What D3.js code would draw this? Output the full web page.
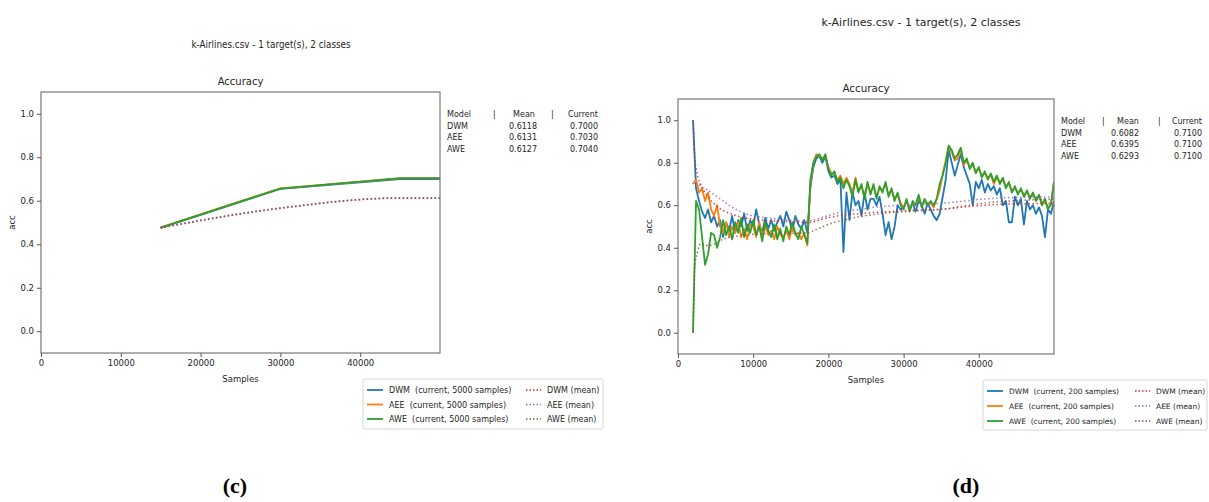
<!DOCTYPE html>
<html><head><meta charset="utf-8">
<script src="https://cdn.jsdelivr.net/npm/d3@7"></script>
<style>body{margin:0;background:#fff}svg{display:block}text{font-family:"DejaVu Sans",sans-serif;fill:#262626}</style>
</head><body><svg id="c" width="1209" height="502"></svg>
<script>
// ---------- data ----------
const models = ["DWM", "AEE", "AWE"];
const currentColors = ["#1f77b4", "#ff7f0e", "#2ca02c"];
const meanColors = ["#d62728", "#9467bd", "#8c564b"];
const xTicks = [0, 10000, 20000, 30000, 40000];
const yTicks = [0.0, 0.2, 0.4, 0.6, 0.8, 1.0];
const figTitle = "k-Airlines.csv - 1 target(s), 2 classes";

// panel (c): 5000-sample windows
const cSamples = [15000, 30000, 45000, 50000];
const cDWM = [0.475, 0.655, 0.700, 0.700];
const cAEE = [0.478, 0.657, 0.703, 0.703];
const cAWE = [0.476, 0.656, 0.704, 0.704];
const cDWMmean = [0.475, 0.565, 0.612, 0.612];
const cAEEmean = [0.478, 0.567, 0.613, 0.613];
const cAWEmean = [0.476, 0.566, 0.6127, 0.6127];
const cTable = [["0.6118", "0.7000"], ["0.6131", "0.7030"], ["0.6127", "0.7040"]];

// panel (d): 200-sample windows, read every 400 samples from 2000 to 50000
const dStart = 2000, dStep = 400;
const dDWM = [
 1.00,0.68,0.62,0.57,0.54,0.58,0.52,0.55,0.50,0.53,
 0.45,0.52,0.48,0.55,0.47,0.53,0.50,0.56,0.48,0.53,
 0.50,0.58,0.51,0.47,0.54,0.49,0.53,0.48,0.52,0.55,
 0.50,0.57,0.53,0.48,0.55,0.51,0.49,0.53,0.47,0.68,
 0.78,0.82,0.83,0.80,0.83,0.76,0.73,0.74,0.70,0.72,
 0.38,0.66,0.53,0.66,0.60,0.62,0.55,0.66,0.58,0.63,
 0.63,0.60,0.64,0.56,0.46,0.52,0.44,0.50,0.60,0.58,
 0.59,0.62,0.58,0.61,0.57,0.62,0.60,0.56,0.61,0.58,
 0.55,0.53,0.56,0.64,0.72,0.86,0.80,0.74,0.79,0.84,
 0.78,0.74,0.70,0.60,0.71,0.68,0.72,0.66,0.70,0.67,
 0.69,0.65,0.68,0.60,0.62,0.52,0.52,0.64,0.60,0.63,
 0.51,0.62,0.58,0.60,0.56,0.59,0.55,0.45,0.58,0.56,0.62];
const dAEE = [
 0.70,0.72,0.66,0.68,0.62,0.66,0.58,0.55,0.60,0.50,
 0.47,0.52,0.45,0.50,0.47,0.52,0.45,0.49,0.44,0.51,
 0.50,0.45,0.52,0.46,0.50,0.46,0.48,0.44,0.50,0.46,
 0.45,0.48,0.44,0.50,0.46,0.47,0.44,0.47,0.41,0.70,
 0.80,0.84,0.83,0.82,0.83,0.78,0.75,0.75,0.72,0.74,
 0.70,0.73,0.70,0.66,0.73,0.67,0.69,0.64,0.70,0.66,
 0.69,0.64,0.68,0.67,0.70,0.65,0.67,0.63,0.65,0.61,
 0.59,0.62,0.58,0.61,0.60,0.64,0.60,0.62,0.61,0.61,
 0.59,0.63,0.67,0.75,0.81,0.88,0.85,0.81,0.82,0.87,
 0.79,0.81,0.78,0.79,0.76,0.77,0.74,0.75,0.73,0.74,
 0.70,0.73,0.71,0.72,0.69,0.70,0.67,0.68,0.66,0.67,
 0.65,0.66,0.64,0.65,0.63,0.64,0.61,0.62,0.59,0.60,0.71];
const dAWE = [
 0.00,0.62,0.58,0.45,0.32,0.37,0.47,0.46,0.40,0.45,
 0.53,0.46,0.50,0.44,0.52,0.47,0.54,0.45,0.51,0.47,
 0.53,0.46,0.50,0.43,0.52,0.48,0.45,0.51,0.44,0.49,
 0.43,0.50,0.46,0.52,0.47,0.44,0.50,0.46,0.42,0.72,
 0.80,0.83,0.84,0.81,0.84,0.77,0.74,0.76,0.71,0.73,
 0.68,0.72,0.69,0.64,0.72,0.66,0.70,0.63,0.71,0.65,
 0.70,0.63,0.69,0.66,0.71,0.64,0.68,0.62,0.66,0.60,
 0.58,0.63,0.57,0.62,0.60,0.65,0.59,0.63,0.60,0.62,
 0.60,0.63,0.70,0.74,0.80,0.88,0.86,0.82,0.84,0.87,
 0.80,0.82,0.77,0.80,0.75,0.78,0.73,0.76,0.72,0.75,
 0.71,0.74,0.70,0.73,0.68,0.71,0.66,0.69,0.65,0.68,
 0.64,0.67,0.63,0.66,0.62,0.65,0.60,0.63,0.58,0.61,0.71];
const dMeanSamples = [2000,2200,2600,3000,4000,5000,6000,7000,8000,9000,10000,12000,14000,16000,17000,18000,19000,20000,22000,24000,26000,28000,30000,32000,34000,36000,38000,40000,42000,44000,46000,48000,50000];
const dDWMmean = [1.0,0.84,0.74,0.70,0.64,0.60,0.575,0.56,0.548,0.54,0.535,0.528,0.524,0.52,0.518,0.522,0.532,0.542,0.553,0.56,0.566,0.57,0.574,0.577,0.579,0.584,0.592,0.598,0.603,0.606,0.607,0.608,0.6082];
const dAEEmean = [0.70,0.71,0.70,0.69,0.67,0.645,0.62,0.595,0.575,0.56,0.55,0.54,0.532,0.527,0.525,0.53,0.54,0.552,0.57,0.58,0.59,0.597,0.60,0.605,0.607,0.612,0.62,0.627,0.632,0.636,0.638,0.639,0.6395];
const dAWEmean = [0.0,0.30,0.38,0.42,0.41,0.42,0.44,0.45,0.455,0.46,0.463,0.467,0.468,0.468,0.468,0.48,0.495,0.51,0.53,0.545,0.556,0.565,0.57,0.575,0.578,0.585,0.597,0.607,0.615,0.62,0.624,0.627,0.6293];
const dTable = [["0.6082", "0.7100"], ["0.6395", "0.7100"], ["0.6293", "0.7100"]];

// ---------- drawing ----------
const svg = d3.select("#c");

function panel(o) {
  const g = svg.append("g");
  const x = d3.scaleLinear().domain([0, 50000]).range([o.l, o.r]);
  const y = d3.scaleLinear().domain([-0.1, 1.1]).range([o.b, o.t]);
  const clipId = "clip" + o.id;
  svg.append("clipPath").attr("id", clipId).append("rect")
    .attr("x", o.l).attr("y", o.t).attr("width", o.r - o.l).attr("height", o.b - o.t);

  // suptitle & title
  g.append("text").attr("transform", `translate(${o.supX},${o.supY}) scale(${o.supScale},1)`)
    .attr("text-anchor", "middle").attr("font-size", o.supSize).text(figTitle);
  g.append("text").attr("x", (o.l + o.r) / 2).attr("y", o.t - 7).attr("text-anchor", "middle")
    .attr("font-size", o.titleSize).text("Accuracy");

  const lines = g.append("g").attr("clip-path", `url(#${clipId})`);
  const line = d3.line().x(d => x(d[0])).y(d => y(d[1]));
  const meanLine = d3.line().x(d => x(d[0])).y(d => y(d[1])).curve(d3.curveMonotoneX);
  o.current.forEach((vals, i) => {
    lines.append("path").datum(o.currX.map((s, k) => [s, vals[k]]))
      .attr("fill", "none").attr("stroke", currentColors[i]).attr("stroke-width", 1.8)
      .attr("stroke-linejoin", "round").attr("d", line);
  });
  o.means.forEach((vals, i) => {
    lines.append("path").datum(o.meanX.map((s, k) => [s, vals[k]]))
      .attr("fill", "none").attr("stroke", meanColors[i]).attr("stroke-width", 1.5)
      .attr("stroke-dasharray", "1.5,2.5").attr("opacity", 0.85).attr("d", meanLine);
  });

  // frame
  g.append("rect").attr("x", o.l).attr("y", o.t).attr("width", o.r - o.l).attr("height", o.b - o.t)
    .attr("fill", "none").attr("stroke", "#7a7a7a").attr("stroke-width", 1.2);

  const ax = g.append("g").attr("transform", `translate(0,${o.b})`)
    .call(d3.axisBottom(x).tickValues(xTicks).tickFormat(d3.format("d")).tickSize(4).tickPadding(3));
  const ay = g.append("g").attr("transform", `translate(${o.l},0)`)
    .call(d3.axisLeft(y).tickValues(yTicks).tickFormat(d3.format(".1f")).tickSize(4).tickPadding(3));
  [ax, ay].forEach(a => {
    a.select(".domain").remove();
    a.selectAll(".tick line").attr("stroke", "#555");
    a.selectAll(".tick text").attr("font-size", 8.5).attr("fill", "#262626")
      .attr("font-family", "DejaVu Sans, sans-serif");
  });
  g.append("text").attr("x", (o.l + o.r) / 2).attr("y", o.b + 29).attr("text-anchor", "middle")
    .attr("font-size", 8.5).text("Samples");
  g.append("text").attr("transform", `translate(${o.l - 26},${(o.t + o.b) / 2}) rotate(-90)`)
    .attr("text-anchor", "middle").attr("font-size", 8.5).text("acc");

  // table
  const tb = g.append("g").attr("font-size", 8);
  const tx = o.tableX, ty = o.tableY, rowH = 11.5;
  const col = o.tableCols;
  tb.append("text").attr("x", tx).attr("y", ty).text("Model");
  tb.append("text").attr("x", col[0]).attr("y", ty).text("|");
  tb.append("text").attr("x", col[1]).attr("y", ty).attr("text-anchor", "middle").text("Mean");
  tb.append("text").attr("x", col[2]).attr("y", ty).text("|");
  tb.append("text").attr("x", col[4]).attr("y", ty).attr("text-anchor", "end").text("Current");
  models.forEach((m, i) => {
    const yy = ty + rowH * (i + 1);
    tb.append("text").attr("x", tx).attr("y", yy).text(m);
    tb.append("text").attr("x", col[3]).attr("y", yy).attr("text-anchor", "end").text(o.table[i][0]);
    tb.append("text").attr("x", col[4]).attr("y", yy).attr("text-anchor", "end").text(o.table[i][1]);
  });

  // legend
  const L = o.legend;
  const lg = g.append("g");
  lg.append("rect").attr("x", L.x).attr("y", L.y).attr("width", L.w).attr("height", L.h)
    .attr("rx", 2).attr("fill", "#fff").attr("stroke", "#d6d6d6");
  models.forEach((m, i) => {
    const yy = L.y + 11 + i * L.rowH;
    lg.append("line").attr("x1", L.x + 4).attr("x2", L.x + 20).attr("y1", yy).attr("y2", yy)
      .attr("stroke", currentColors[i]).attr("stroke-width", 1.8);
    lg.append("text").attr("x", L.x + 26).attr("y", yy + 3.2).attr("font-size", L.fs)
      .attr("xml:space", "preserve").text(`${m}  (current, ${o.window} samples)`);
    lg.append("line").attr("x1", L.x + L.c2).attr("x2", L.x + L.c2 + 15).attr("y1", yy).attr("y2", yy)
      .attr("stroke", meanColors[i]).attr("stroke-width", 1.5).attr("stroke-dasharray", "1.5,2");
    lg.append("text").attr("x", L.x + L.c2 + 21).attr("y", yy + 3.2).attr("font-size", L.fs)
      .text(`${m} (mean)`);
  });

  // caption
  svg.append("text").attr("x", o.capX).attr("y", 493).attr("text-anchor", "middle")
    .attr("font-weight", "bold").attr("font-size", 22)
    .style("font-family", "Liberation Serif, DejaVu Serif, serif").style("fill", "#000")
    .text(o.caption);
}

const dX = dDWM.map((_, i) => dStart + i * dStep);

panel({
  id: "c", l: 41, r: 440, t: 92, b: 353, supX: 271, supY: 48, supSize: 11, supScale: 0.8, titleSize: 10,
  currX: cSamples, current: [cDWM, cAEE, cAWE],
  meanX: cSamples, means: [cDWMmean, cAEEmean, cAWEmean],
  tableX: 447, tableY: 117, tableCols: [493, 524, 551, 537, 598], table: cTable,
  legend: { x: 363, y: 379, w: 240, h: 50, rowH: 14.5, c2: 163, fs: 8 }, window: 5000,
  capX: 235, caption: "(c)"
});
panel({
  id: "d", l: 678, r: 1054, t: 99, b: 354, supX: 921, supY: 26, supSize: 11, supScale: 1, titleSize: 10.3,
  currX: dX, current: [dDWM, dAEE, dAWE],
  meanX: dMeanSamples, means: [dDWMmean, dAEEmean, dAWEmean],
  tableX: 1061, tableY: 124, tableCols: [1102, 1128, 1158, 1139, 1202], table: dTable,
  legend: { x: 983, y: 380, w: 224, h: 50, rowH: 15, c2: 152, fs: 7.5 }, window: 200,
  capX: 966, caption: "(d)"
});
</script></body></html>
